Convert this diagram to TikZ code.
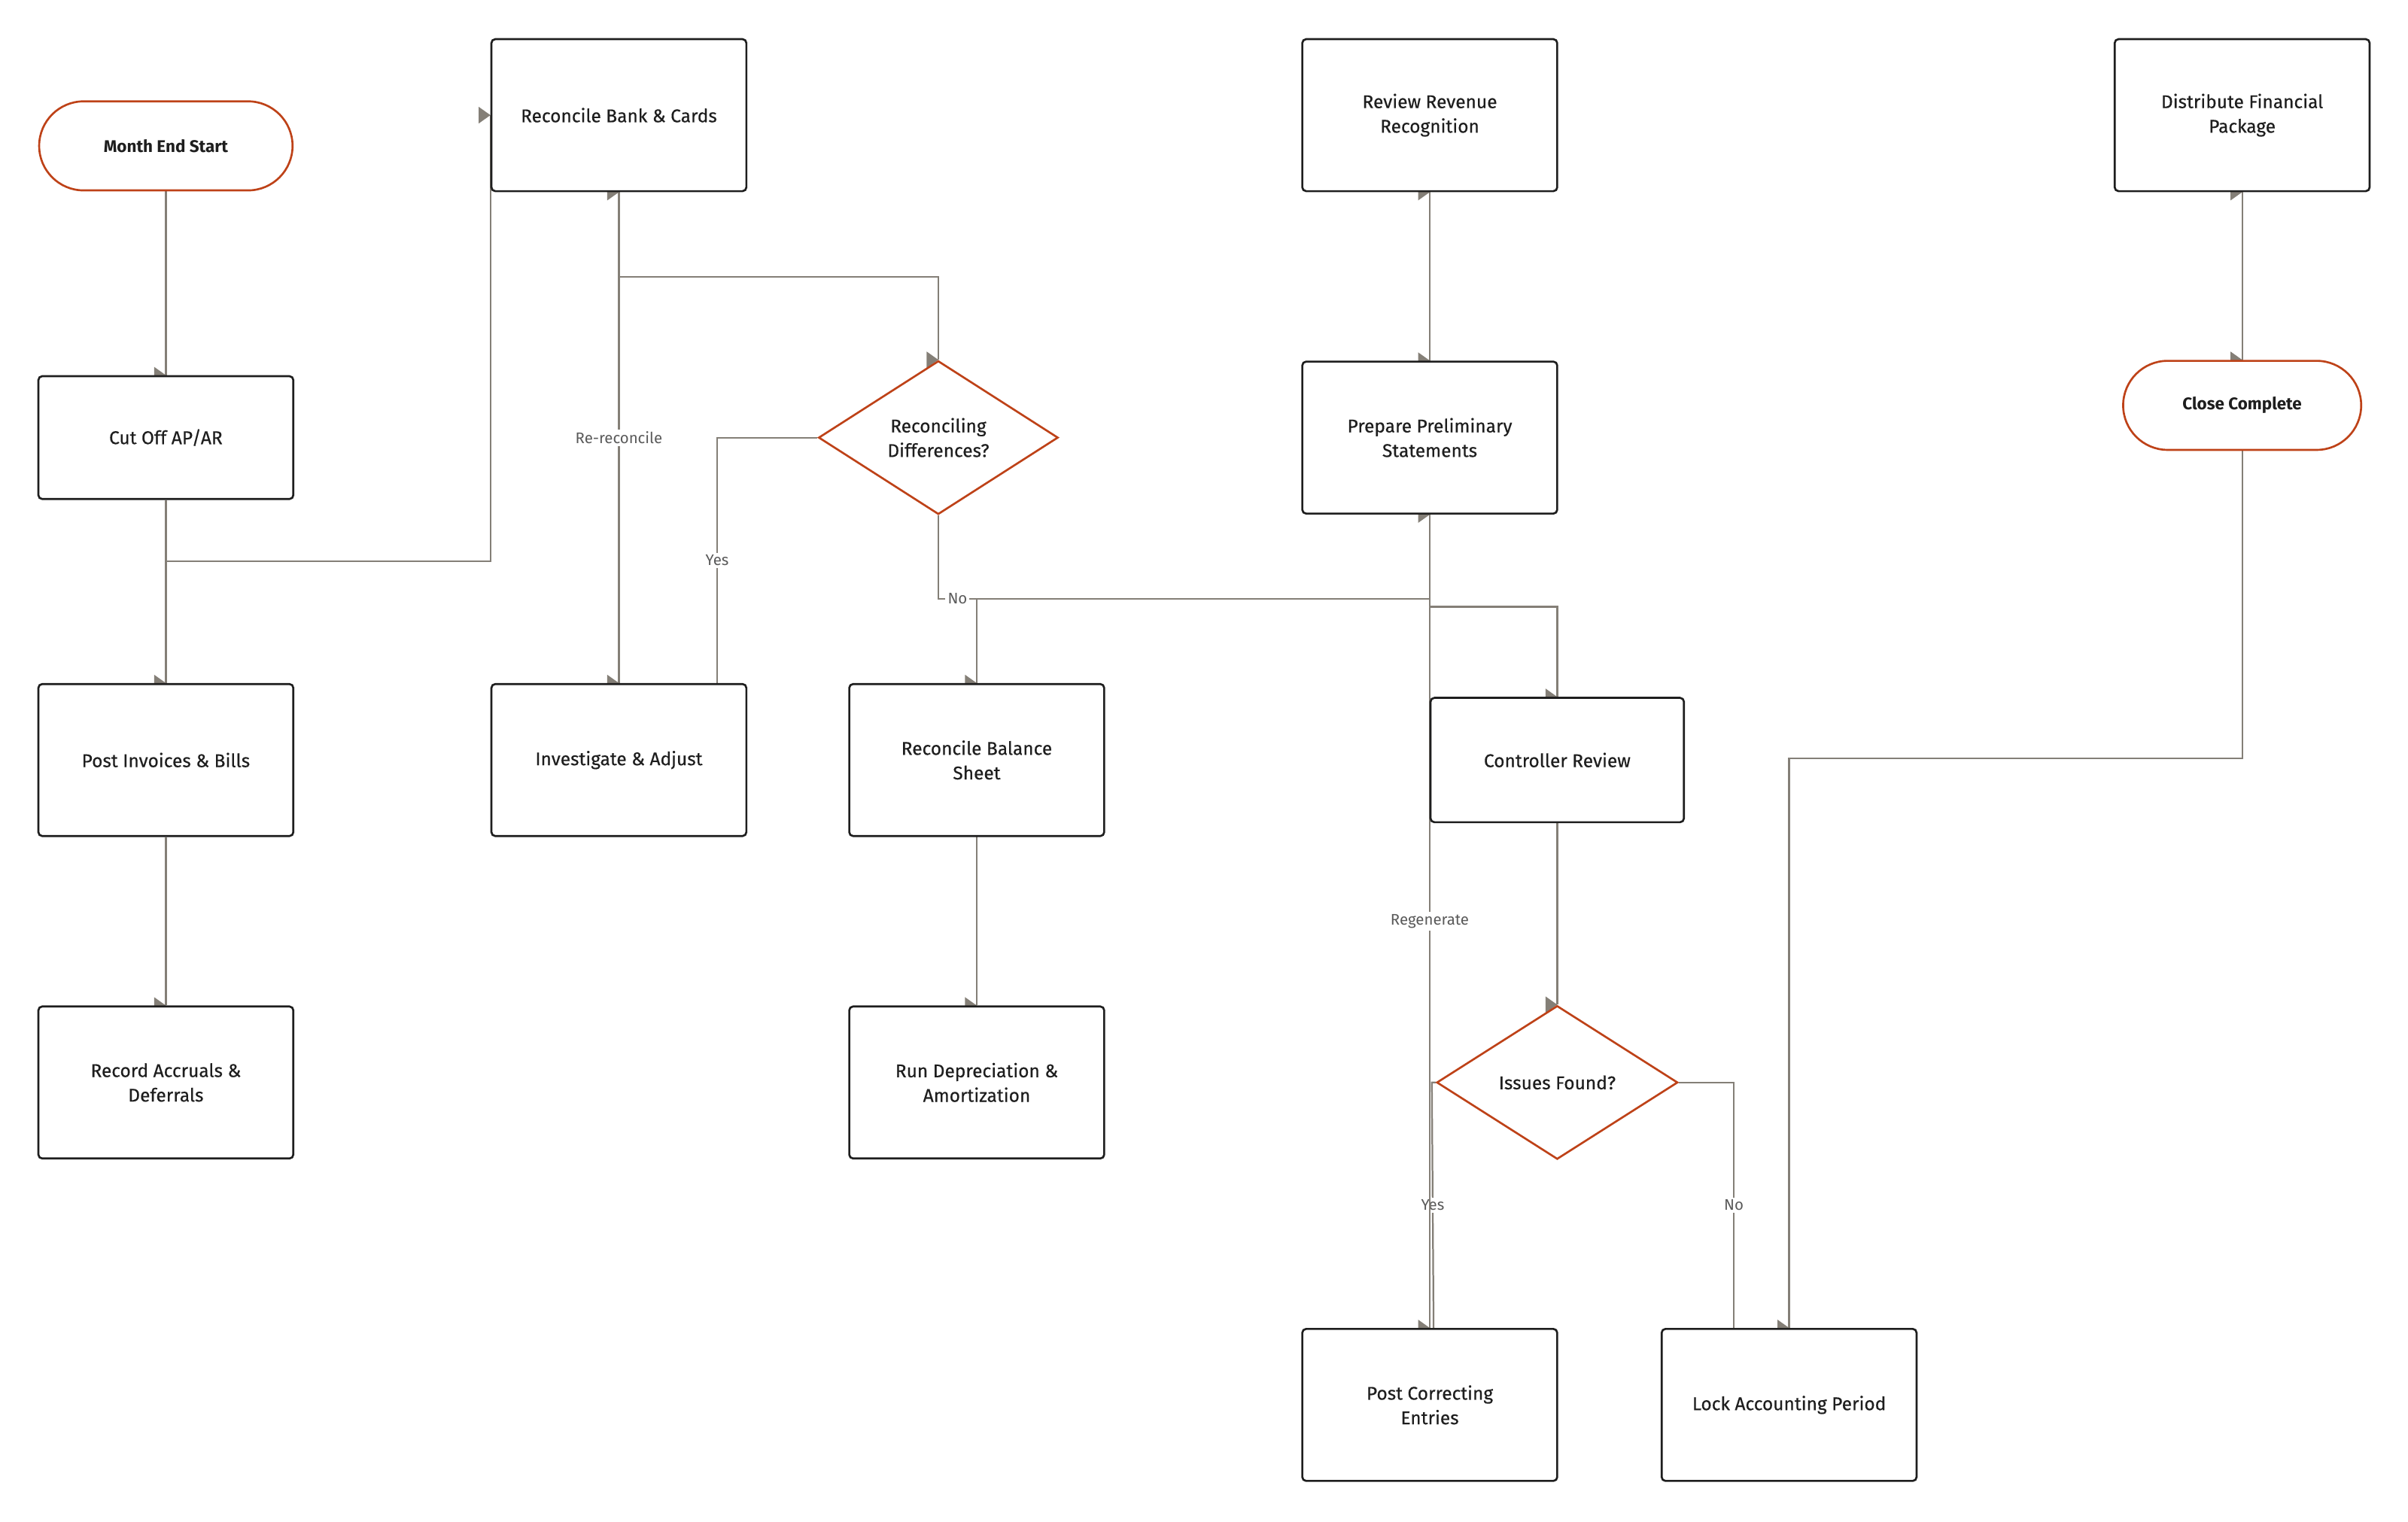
\documentclass[tikz,border=0pt]{standalone}
\usepackage{fontspec}
\setmainfont{Fira Sans}
\newfontfamily\medfont{Fira Sans}[FakeBold=0.4]
\usetikzlibrary{shapes.geometric,backgrounds,calc}
\definecolor{edgec}{RGB}{132,127,119}
\definecolor{rust}{RGB}{190,66,24}
\definecolor{ink}{RGB}{30,30,30}
\definecolor{lblc}{RGB}{90,90,90}
\newcommand\ahead[1]{\fill[edgec] (#1) -- ++(-7.6,-5.4) -- ++(0,10.8) -- cycle;}
\begin{document}
\begin{tikzpicture}[x=1pt,y=-1pt,
  box/.style={draw=ink,line width=1.3pt,rounded corners=2.5pt,fill=white,minimum width=166pt,minimum height=99pt,align=center,font=\medfont\fontsize{12}{16}\selectfont,text=ink,inner sep=0pt},
  term/.style={draw=rust,line width=1.3pt,rounded corners=29pt,fill=white,minimum width=165pt,minimum height=58pt,font=\bfseries\fontsize{11}{13}\selectfont,text=ink,inner sep=0pt},
  dec/.style={diamond,draw=rust,line width=1.3pt,fill=white,minimum width=156pt,minimum height=100pt,aspect=1.56,inner sep=0pt,align=center,font=\medfont\fontsize{12}{16}\selectfont,text=ink},
  conn/.style={draw=edgec,line width=1.1pt},
  elab/.style={fill=white,text=lblc,font=\fontsize{10}{12}\selectfont,inner sep=1.5pt}
]
\useasboundingbox (0,0) rectangle (1568,991);
% nodes
\node[term] (start) at (108,95) {Month End Start};
\node[box,minimum height=80pt] (cut) at (108,285) {Cut Off AP/AR};
\node[box] (post) at (108,495) {Post Invoices \& Bills};
\node[box] (rec) at (108,705) {Record Accruals \&\\Deferrals};
\node[box] (rb) at (403,75) {Reconcile Bank \& Cards};
\node[dec] (d1) at (611,285) {Reconciling\\Differences?};
\node[box] (inv) at (403,495) {Investigate \& Adjust};
\node[box] (rbs) at (636,495) {Reconcile Balance\\Sheet};
\node[box] (rd) at (636,705) {Run Depreciation \&\\Amortization};
\node[box] (rrr) at (931,75) {Review Revenue\\Recognition};
\node[box] (pp) at (931,285) {Prepare Preliminary\\Statements};
\node[box,minimum width=165pt,minimum height=81pt] (cr) at (1014,495) {Controller Review};
\node[dec,minimum width=157pt] (iss) at (1014,705) {Issues Found?};
\node[box] (pce) at (931,915) {Post Correcting\\Entries};
\node[box] (lock) at (1165,915) {Lock Accounting Period};
\node[box] (dist) at (1460,75) {Distribute Financial\\Package};
\node[term,minimum width=155pt] (cc) at (1460,264) {Close Complete};
% connectors
\begin{pgfonlayer}{background}
\draw[conn] (start.south) -- (cut.north);
\draw[conn] (cut.south) -- ++(0,40) -| (rb.west);
\draw[conn] (cut.south) -- (post.north);
\draw[conn] (post.south) -- (rec.north);
\draw[conn] (rb.south) -- ++(0,55) -| (d1.north);
\draw[conn] (d1.west) -| node[pos=0.75,elab]{Yes} ($(inv.north)+(64,0)$);
\draw[conn] (inv.north) -- node[elab]{Re-reconcile} (rb.south);
\draw[conn] (d1.south) |- node[pos=0.75,elab]{No} ($(rbs.north)+(0,-55)$) -- (rbs.north);
\draw[conn] (rbs.south) -- (rd.north);
\draw[conn] (rd.north) -- ($(rbs.north)+(0,-55)$) -| (rrr.south);
\draw[conn] (rrr.south) -- (pp.north);
\draw[conn] (pp.south) -- ++(0,60) -| (cr.north);
\draw[conn] (cr.south) -- (iss.north);
\draw[conn] (iss.west) -- ++(-2.5,0) -- node[elab]{Yes} ($(pce.north)+(2.5,0)$);
\draw[conn] (pce.north) -- node[elab]{Regenerate} (pp.south);
\draw[conn] (iss.east) -| node[pos=0.75,elab]{No} ($(lock.north)+(-36,0)$);
\draw[conn] (lock.north) -- ++(0,-371) -| (dist.south);
\draw[conn] (dist.south) -- (cc.north);
% arrowheads
\ahead{cut.north}\ahead{rb.west}\ahead{rb.south}\ahead{d1.north}
\ahead{post.north}\ahead{inv.north}\ahead{rbs.north}\ahead{rec.north}
\ahead{rd.north}\ahead{rrr.south}\ahead{pp.north}\ahead{pp.south}
\ahead{cr.north}\ahead{iss.north}\ahead{pce.north}\ahead{lock.north}
\ahead{dist.south}\ahead{cc.north}
\end{pgfonlayer}
\end{tikzpicture}
\end{document}
